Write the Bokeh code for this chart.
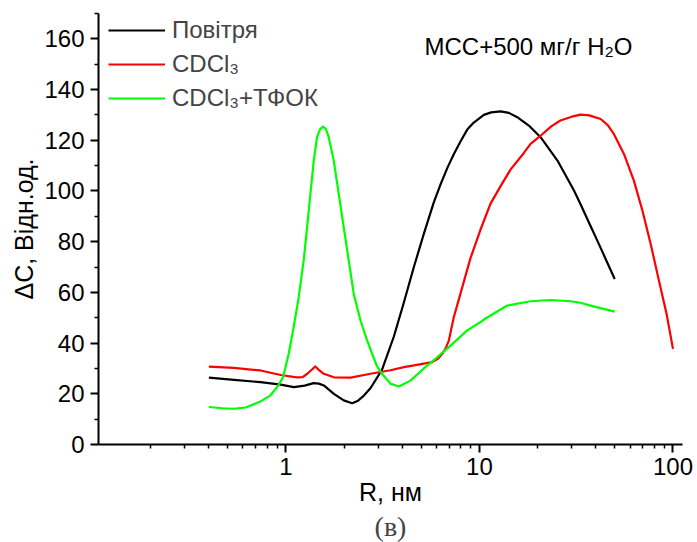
from bokeh.plotting import figure
from bokeh.models import (Range1d, FixedTicker, Legend, LegendItem, Label, Title)
from bokeh.embed import file_html
from bokeh.resources import INLINE

# --- data (R in nm, ΔC in rel. units) ---
air_r = [0.40, 0.54, 0.74, 0.94, 1.10, 1.25, 1.39, 1.48, 1.57, 1.77, 1.99, 2.20, 2.36,
         2.53, 2.74, 3.14, 3.61, 4.07, 4.58, 5.16, 5.81, 6.29, 6.82, 7.37, 7.98, 8.65,
         9.35, 10.54, 11.5, 12.87, 14.2, 15.68, 18.0, 20.7, 25.3, 30.8, 33.3, 37.5,
         40.6, 45.0, 50.0]
air_c = [26.4, 25.5, 24.6, 23.6, 22.6, 23.2, 24.2, 24.0, 23.3, 20.0, 17.4, 16.3, 17.3,
         19.3, 22.3, 29.5, 42.5, 56.0, 69.9, 83.1, 95.5, 102.5, 109.0, 114.5, 119.5, 124.2,
         127.0, 130.0, 131.0, 131.4, 130.8, 129.1, 125.8, 121.2, 112.0, 100.2, 94.8, 86.2,
         80.5, 73.0, 65.3]

cdcl3_r = [0.40, 0.54, 0.74, 0.94, 1.14, 1.22, 1.29, 1.36, 1.42, 1.49, 1.57, 1.77, 2.16,
           2.74, 3.47, 4.07, 5.0, 5.70, 6.10, 6.43, 6.70, 6.95, 7.37, 7.98, 8.99, 10.1,
           11.41, 13.0, 14.5, 16.97, 18.37, 20.7, 23.5, 26.2, 30.0, 33.3, 37.0, 42.3,
           46.0, 49.5, 55.8, 62.8, 69.5, 76.7, 84.6, 92.7, 100.0]
cdcl3_c = [30.7, 30.2, 29.2, 27.4, 26.5, 26.6, 27.9, 29.5, 30.8, 29.2, 27.9, 26.5, 26.4,
           27.9, 29.3, 30.5, 31.7, 32.5, 33.8, 35.8, 38.0, 41.0, 50.2, 59.5, 73.5, 84.5,
           95.0, 102.5, 108.5, 115.0, 118.6, 121.8, 125.5, 127.8, 129.3, 130.1, 129.8, 128.4,
           126.0, 122.5, 114.6, 104.1, 92.3, 79.1, 64.7, 51.5, 37.7]

tfok_r = [0.40, 0.47, 0.54, 0.62, 0.74, 0.83, 0.90, 0.967, 1.034, 1.097, 1.165, 1.236,
          1.287, 1.339, 1.393, 1.449, 1.50, 1.557, 1.61, 1.665, 1.767, 1.875, 1.99, 2.112,
          2.242, 2.43, 2.63, 2.80, 2.95, 3.14, 3.47, 3.83, 4.40, 5.16, 6.05, 7.09, 8.65,
          10.1, 10.54, 13.92, 18.37, 23.3, 29.6, 33.3, 37.5, 50.0]
tfok_c = [14.8, 14.3, 14.1, 14.6, 17.0, 19.3, 22.6, 26.5, 35.8, 46.3, 58.1, 72.6,
          85.7, 98.9, 112.0, 121.2, 124.3, 125.4, 124.4, 121.2, 112.0, 98.9, 85.7, 72.6,
          59.4, 48.9, 41.0, 35.5, 31.0, 27.9, 24.0, 22.9, 25.2, 30.0, 34.4, 39.0, 45.0,
          48.2, 49.3, 54.8, 56.5, 57.0, 56.5, 55.9, 54.8, 52.4]

series_names = ["Повітря", "CDCl₃", "CDCl₃+ТФОК"]
series_colors = ["#000000", "#FF0000", "#00FF00"]

x_major = [1, 10, 100]
x_minor = [0.2, 0.3, 0.4, 0.5, 0.6, 0.7, 0.8, 0.9,
           2, 3, 4, 5, 6, 7, 8, 9,
           20, 30, 40, 50, 60, 70, 80, 90]
y_major = [0, 20, 40, 60, 80, 100, 120, 140, 160]
y_minor = [10, 30, 50, 70, 90, 110, 130, 150, 170]

FONT = "Liberation Sans"

p = figure(width=697, height=542, x_axis_type="log",
           x_range=Range1d(0.1076, 112), y_range=Range1d(0, 170),
           output_backend="svg", toolbar_location=None,
           min_border_left=98, min_border_right=15, min_border_top=13,
           min_border_bottom=98)
p.xgrid.visible = False
p.ygrid.visible = False
p.outline_line_color = None
p.background_fill_color = "white"
p.border_fill_color = "white"

renderers = []
for xs, ys, col in [(air_r, air_c, series_colors[0]),
                    (cdcl3_r, cdcl3_c, series_colors[1]),
                    (tfok_r, tfok_c, series_colors[2])]:
    r = p.line(xs, ys, line_color=col, line_width=2.2, line_join="round")
    renderers.append(r)

for ax, maj, mnr in [(p.xaxis[0], x_major, x_minor), (p.yaxis[0], y_major, y_minor)]:
    ax.ticker = FixedTicker(ticks=maj, minor_ticks=mnr)
    ax.axis_line_width = 2
    ax.major_tick_line_width = 2
    ax.minor_tick_line_width = 1.5
    ax.major_tick_in = 0
    ax.major_tick_out = 8
    ax.minor_tick_in = 0
    ax.minor_tick_out = 4
    ax.major_label_text_font = FONT
    ax.major_label_text_font_size = "24px"
    ax.major_label_text_color = "black"
    ax.axis_label_text_font = FONT
    ax.axis_label_text_font_size = "25px"
    ax.axis_label_text_font_style = "normal"
    ax.axis_label_text_color = "black"

p.xaxis[0].major_label_overrides = {1: "1", 10: "10", 100: "100"}
p.xaxis[0].axis_label = "R, нм"
p.xaxis[0].major_label_standoff = 5
p.xaxis[0].axis_label_standoff = 0
p.yaxis[0].axis_label = "ΔC, Відн.од."
p.yaxis[0].major_label_standoff = 6
p.yaxis[0].axis_label_standoff = 3

legend = Legend(items=[LegendItem(label=n, renderers=[r]) for n, r in zip(series_names, renderers)],
                location=(10, 329), border_line_color=None, background_fill_alpha=0,
                label_text_font=FONT, label_text_font_size="24px",
                glyph_width=57, glyph_height=34, label_height=34, spacing=0,
                padding=0, margin=0, label_standoff=7)
p.add_layout(legend)

p.add_layout(Label(x=430, y=398, x_units="screen", y_units="screen",
                   text="MCC+500 мг/г H₂O", text_align="center", text_baseline="middle",
                   text_font=FONT, text_font_size="24px", text_color="black"))

p.add_layout(Title(text="(в)", align="center", offset=-42, text_font="Liberation Serif",
                   text_font_size="28px", text_font_style="normal", standoff=0), "below")

open("out.html", "w").write(file_html(p, INLINE))
